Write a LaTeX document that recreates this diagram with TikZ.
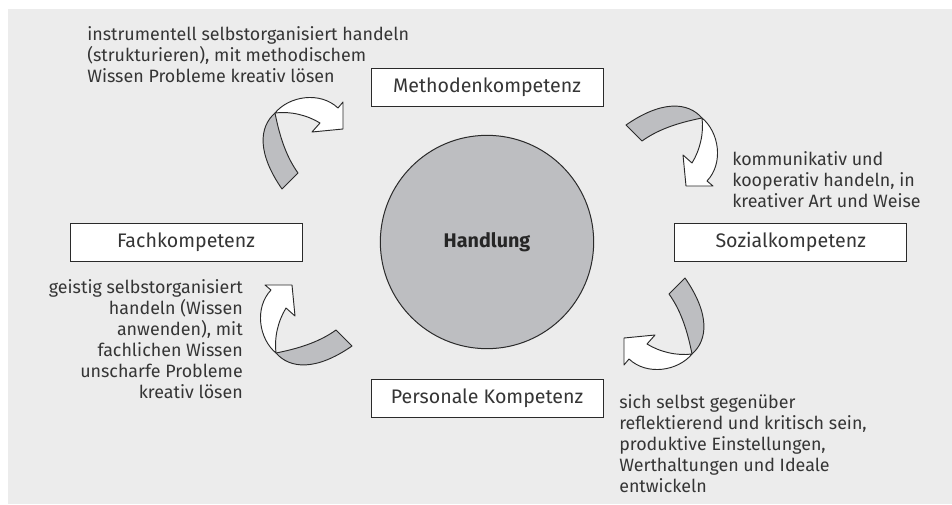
\documentclass[tikz,border=0pt]{standalone}
\usepackage{fontspec}
\setmainfont{Fira Sans}
\usepackage{tikz}
\usetikzlibrary{positioning}
\definecolor{kompBg}{HTML}{ECECEC}
\definecolor{kompGray}{HTML}{BDBEC1}
\definecolor{kompLine}{HTML}{2A2A2A}
\definecolor{kompText}{HTML}{353535}

\tikzset{
  twistarrow/.pic={
    % grey tail of the ribbon
    \filldraw[tailpart] (0,0) .. controls (-16,14) and (-18,40) .. (7,76)
      -- (23,60) .. controls (10,42) and (4,20) .. (0,0) -- cycle;
    % white head of the ribbon
    \filldraw[headpart] (0,0) .. controls (14,-17) and (45,-22) .. (63,-5)
      -- (68,-11) -- (68,16) -- (37,19) -- (45,10)
      .. controls (32,2) and (15,-2) .. (0,0) -- cycle;
  }
}

\begin{document}
\begin{tikzpicture}[x=0.75pt, y=-0.75pt,
  tailpart/.style={fill=kompGray, draw=kompLine, line width=0.7pt, line join=round},
  headpart/.style={fill=white, draw=kompLine, line width=0.7pt, line join=round},
  kompbox/.style={draw=kompLine, fill=white, line width=0.75pt, text=kompText,
    minimum width=174pt, minimum height=28.5pt, inner sep=0pt,
    font=\fontsize{14.7}{17}\selectfont},
  desc/.style={text=kompText, inner sep=0pt, font=\fontsize{13.4}{15.75}\selectfont}]
  \useasboundingbox (0,0) rectangle (952,504);
  \fill[kompBg] (8,9) rectangle (952,504);

  \node[circle, draw=kompLine, fill=kompGray, line width=0.75pt, minimum size=160pt,
    text=black!85, font=\fontsize{14.8}{17}\selectfont\bfseries] (handlung) at (487,242) {Handlung};

  \node[kompbox, above=21pt of handlung] (methoden) {Methodenkompetenz};
  \node[kompbox, below=22pt of handlung] (personal) {Personale Kompetenz};
  \node[kompbox, left=58pt of handlung] (fach) {Fachkompetenz};
  \node[kompbox, right=60pt of handlung] (sozial) {Sozialkompetenz};

  \node[desc, anchor=west, align=left] (tmethoden) at (87,55)
    {instrumentell selbstorganisiert handeln\\(strukturieren), mit methodischem\\Wissen Probleme kreativ lösen};
  \node[desc, anchor=west, align=left] (tsozial) at (732,180)
    {kommunikativ und\\kooperativ handeln, in\\kreativer Art und Weise};
  \node[desc, anchor=east, align=right] (tfach) at (243,339)
    {geistig selbstorganisiert\\handeln (Wissen\\anwenden), mit\\fachlichen Wissen\\unscharfe Probleme\\kreativ lösen};
  \node[desc, anchor=west, align=left] (tpersonal) at (619,444)
    {sich selbst gegenüber\\reflektierend und kritisch sein,\\produktive Einstellungen,\\Werthaltungen und Ideale\\entwickeln};

  \coordinate (t1) at (275,113);
  \coordinate (t2) at (702,118);
  \coordinate (t3) at (692,354);
  \coordinate (t4) at (276,353);
  \pic at (t1) {twistarrow};
  \pic[rotate=-90] at (t2) {twistarrow};
  \pic[rotate=180] at (t3) {twistarrow};
  \pic[rotate=90] at (t4) {twistarrow};
\end{tikzpicture}
\end{document}
